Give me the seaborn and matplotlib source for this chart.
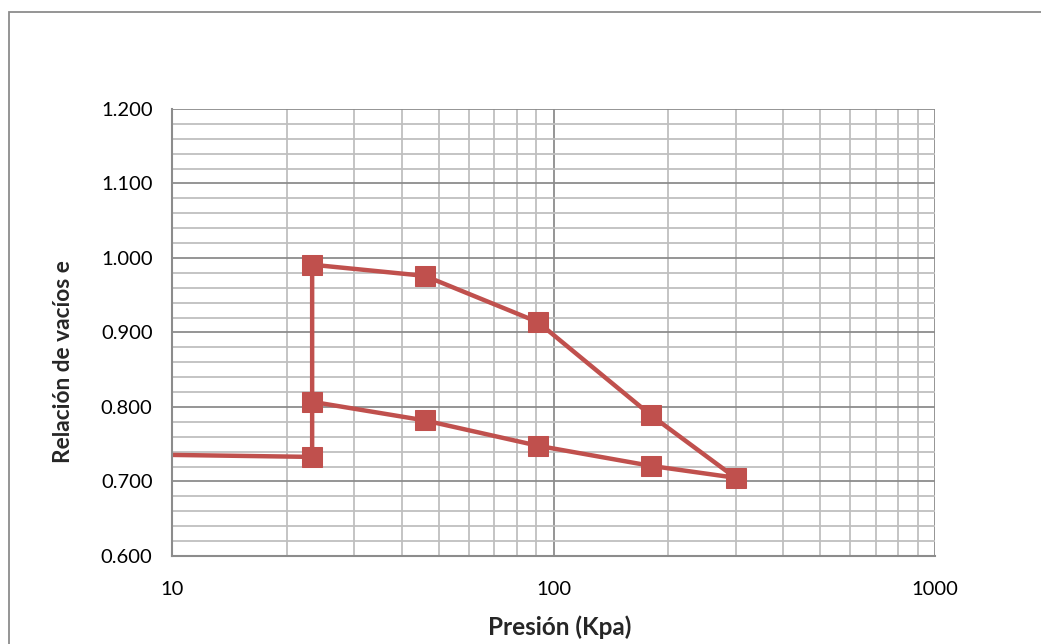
import matplotlib
matplotlib.use("Agg")
import matplotlib.pyplot as plt
import matplotlib.ticker as mticker
from matplotlib.patches import Rectangle
import seaborn as sns
import pandas as pd
import numpy as np

# Consolidation test: void ratio vs. applied pressure (in sequence order)
presion = [1.0, 23.3, 23.3, 46.0, 91.0, 180.0, 300.0, 180.0, 91.0, 46.0, 23.3]
relacion_vacios = [0.743, 0.733, 0.991, 0.976, 0.914, 0.789, 0.705, 0.721, 0.748, 0.782, 0.807]

df = pd.DataFrame({"paso": range(len(presion)), "presion": presion, "e": relacion_vacios})

sns.set_style("white")
plt.rcParams["font.family"] = ["Lato", "DejaVu Sans"]

fig = plt.figure(figsize=(10.41, 6.44), dpi=100)
ax = fig.add_axes([172 / 1041, 1 - 556 / 644, (935 - 172) / 1041, (556 - 109) / 644])

color = "#C0504D"
sns.lineplot(data=df, x="presion", y="e", sort=False, estimator=None, ax=ax,
             color=color, linewidth=3.2, marker="s", markersize=14.5,
             markeredgecolor=color, markerfacecolor=color, clip_on=True)

ax.set_xscale("log")
ax.set_xlim(10, 1000)
ax.set_ylim(0.6, 1.2)

ax.xaxis.set_major_locator(mticker.FixedLocator([10, 100, 1000]))
ax.xaxis.set_major_formatter(mticker.FuncFormatter(lambda v, p: f"{v:.0f}"))
ax.xaxis.set_minor_locator(mticker.LogLocator(base=10, subs=np.arange(2, 10)))
ax.xaxis.set_minor_formatter(mticker.NullFormatter())
ax.yaxis.set_major_locator(mticker.MultipleLocator(0.1))
ax.yaxis.set_minor_locator(mticker.MultipleLocator(0.02))
ax.yaxis.set_major_formatter(mticker.FuncFormatter(lambda v, p: f"{v:.3f}"))

ax.grid(which="major", color="#8c8c8c", linewidth=1.3)
ax.grid(which="minor", color="#bfbfbf", linewidth=1.3)
ax.set_axisbelow(True)

for side in ["top", "right"]:
    ax.spines[side].set_visible(False)
for side in ["left", "bottom"]:
    ax.spines[side].set_color("#8c8c8c")
    ax.spines[side].set_linewidth(1.5)

ax.tick_params(axis="both", which="major", direction="out", length=8, width=1.3,
               color="#8c8c8c", labelsize=14.5, labelcolor="black", pad=6)
ax.tick_params(axis="both", which="minor", length=0)
ax.tick_params(axis="x", which="major", pad=10)

ax.set_xlabel("Presión (Kpa)", fontsize=17.5, fontweight="bold")
ax.xaxis.set_label_coords(0.508, -0.132)
ax.set_ylabel("Relación de vacíos e", fontsize=16.3, fontweight="bold")
ax.yaxis.set_label_coords(-0.128, 0.434)

# Outer chart frame
fig.patches.append(Rectangle((9 / 1041, -0.05), 1.1, 1 - 12 / 644 + 0.05,
                             transform=fig.transFigure, fill=False,
                             edgecolor="#8c8c8c", linewidth=1.3))

fig.savefig("out.png", dpi=100)
